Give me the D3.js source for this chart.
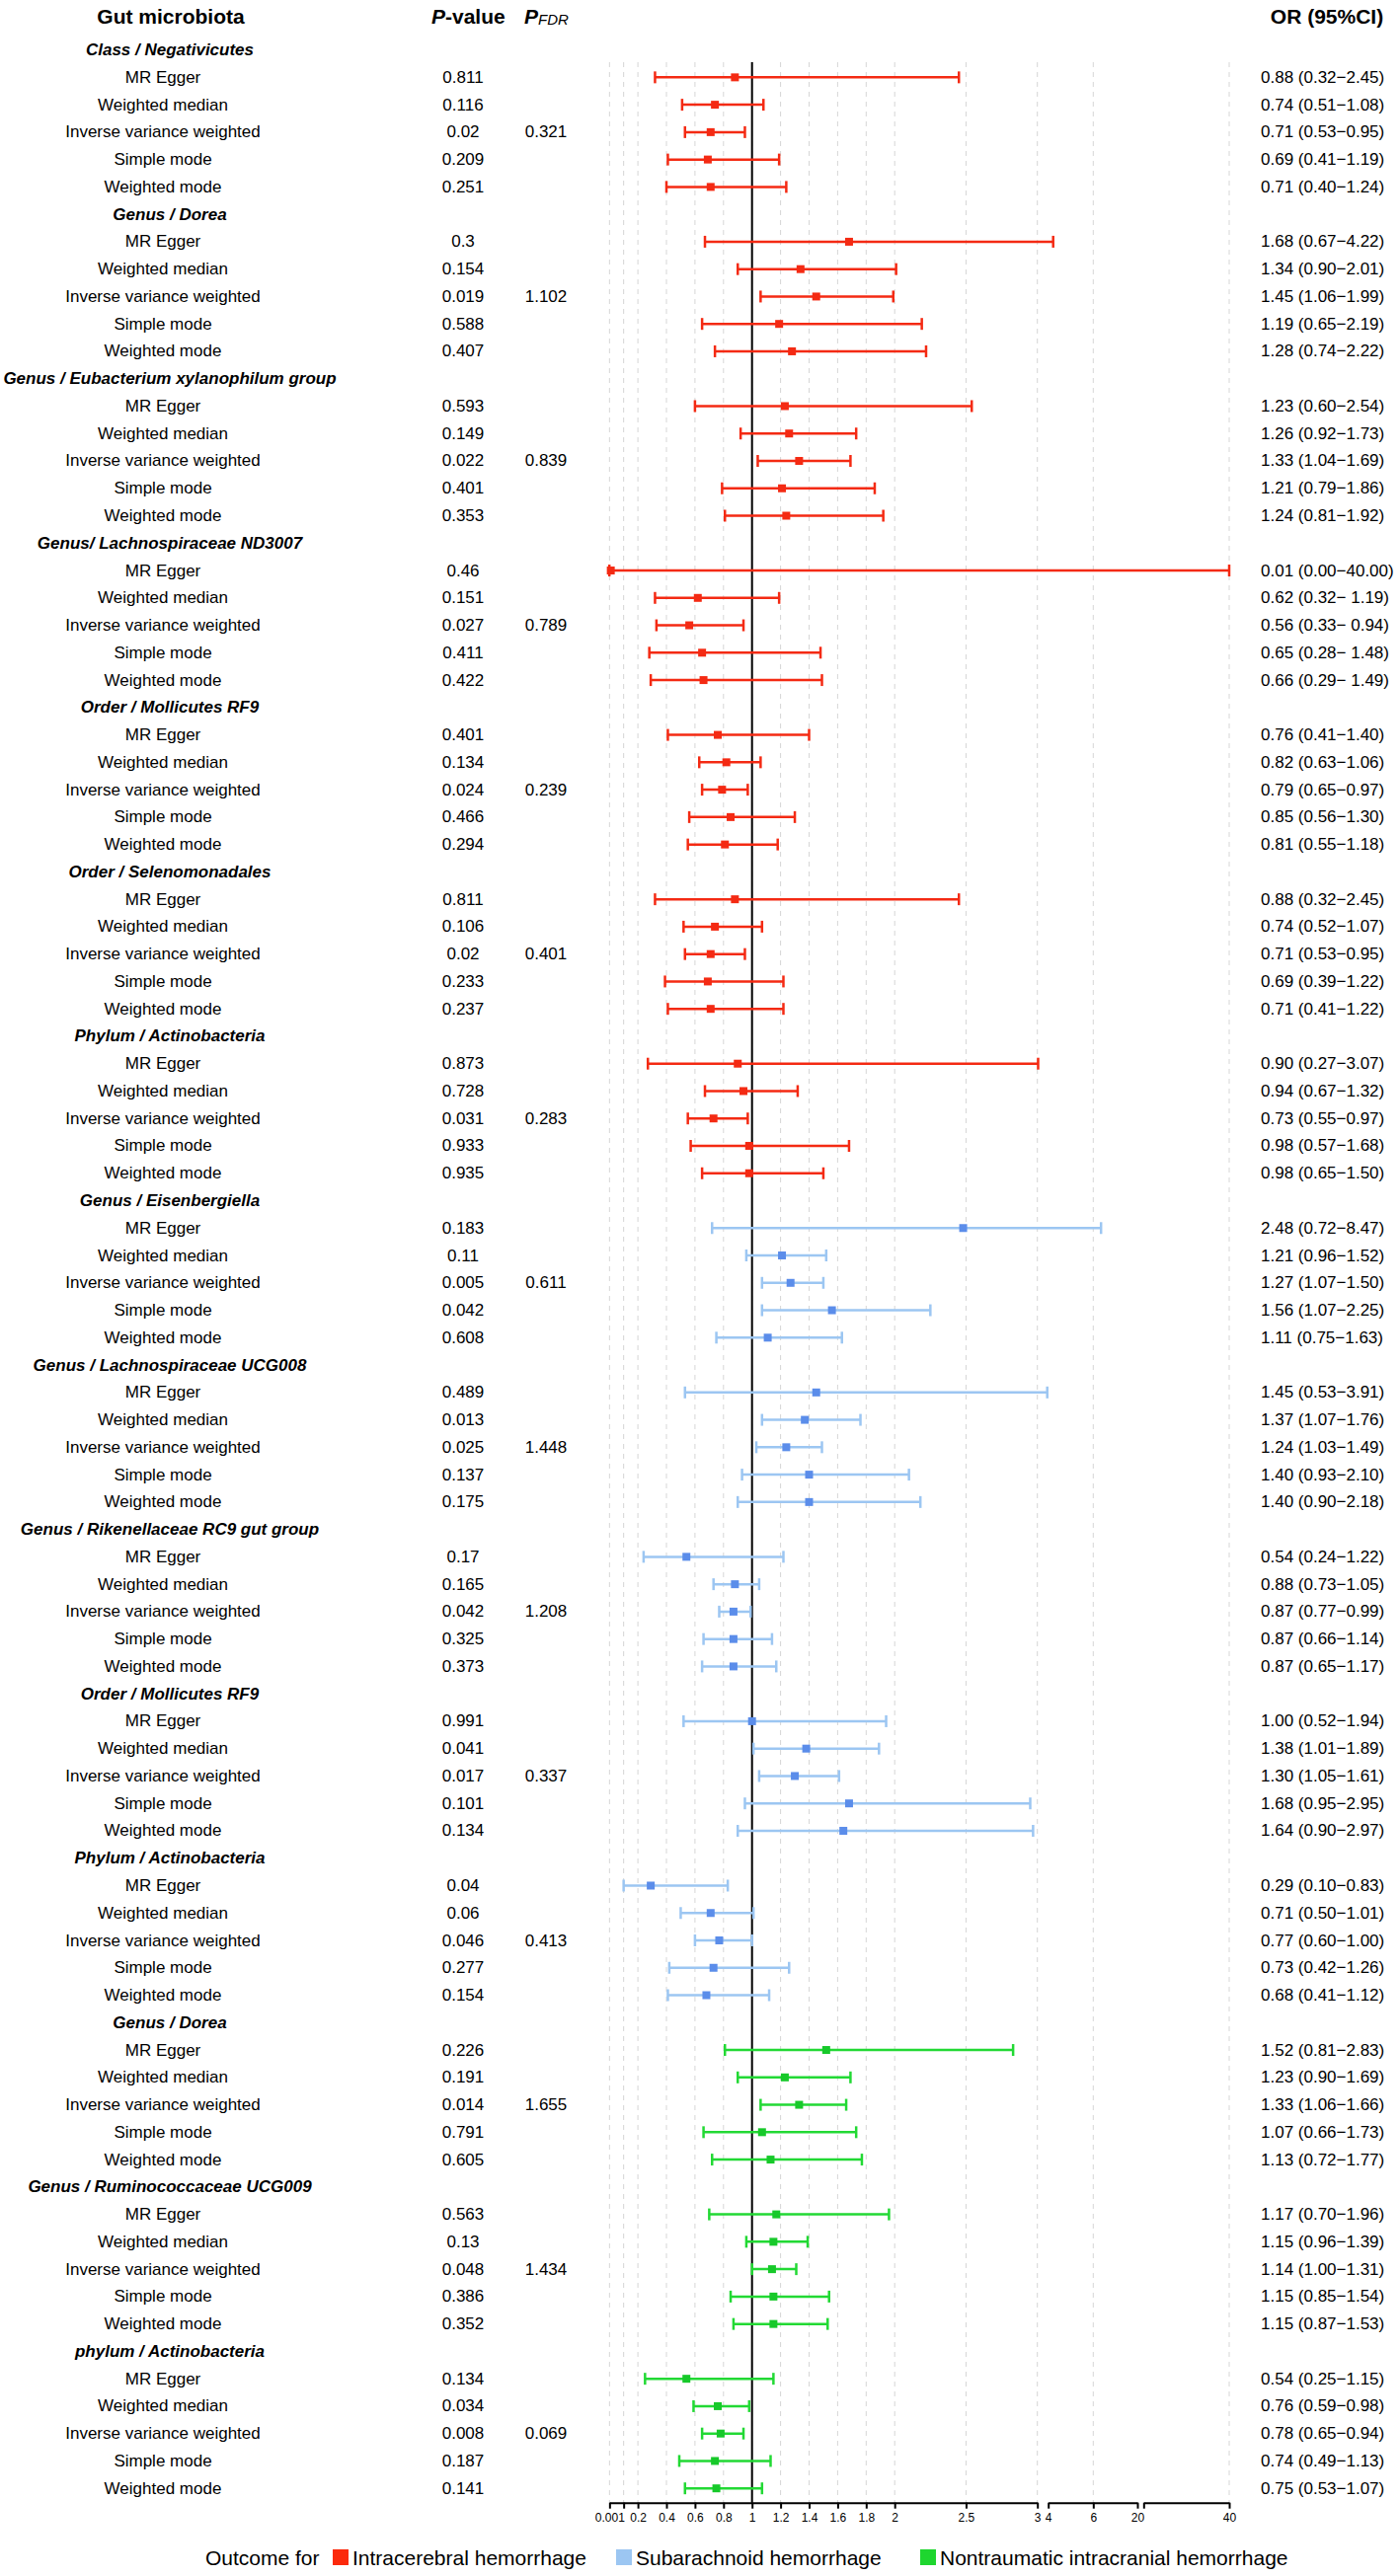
<!DOCTYPE html>
<html>
<head>
<meta charset="utf-8">
<style>
  body { margin: 0; background: #fff; }
  text { font-family: "Liberation Sans", Arial, sans-serif; fill: #000; }
</style>
</head>
<body>
<div id="chart"></div>
<script src="https://d3js.org/d3.v7.min.js"></script>
<script>
// ---- data ----
const groups = [
  "Class / Negativicutes",
  "Genus / Dorea",
  "Genus / Eubacterium xylanophilum group",
  "Genus/ Lachnospiraceae ND3007",
  "Order / Mollicutes RF9",
  "Order / Selenomonadales",
  "Phylum / Actinobacteria",
  "Genus / Eisenbergiella",
  "Genus / Lachnospiraceae UCG008",
  "Genus / Rikenellaceae RC9 gut group",
  "Order / Mollicutes RF9",
  "Phylum / Actinobacteria",
  "Genus / Dorea",
  "Genus / Ruminococcaceae UCG009",
  "phylum / Actinobacteria"
];
const groupOutcome = [0, 0, 0, 0, 0, 0, 0, 1, 1, 1, 1, 1, 2, 2, 2];
const outcomes = ["Intracerebral hemorrhage", "Subarachnoid hemorrhage", "Nontraumatic intracranial hemorrhage"];
const methods = ["MR Egger", "Weighted median", "Inverse variance weighted", "Simple mode", "Weighted mode"];

const pValues = [
  ["0.811", "0.116", "0.02", "0.209", "0.251"],
  ["0.3", "0.154", "0.019", "0.588", "0.407"],
  ["0.593", "0.149", "0.022", "0.401", "0.353"],
  ["0.46", "0.151", "0.027", "0.411", "0.422"],
  ["0.401", "0.134", "0.024", "0.466", "0.294"],
  ["0.811", "0.106", "0.02", "0.233", "0.237"],
  ["0.873", "0.728", "0.031", "0.933", "0.935"],
  ["0.183", "0.11", "0.005", "0.042", "0.608"],
  ["0.489", "0.013", "0.025", "0.137", "0.175"],
  ["0.17", "0.165", "0.042", "0.325", "0.373"],
  ["0.991", "0.041", "0.017", "0.101", "0.134"],
  ["0.04", "0.06", "0.046", "0.277", "0.154"],
  ["0.226", "0.191", "0.014", "0.791", "0.605"],
  ["0.563", "0.13", "0.048", "0.386", "0.352"],
  ["0.134", "0.034", "0.008", "0.187", "0.141"]
];
// FDR only reported for the IVW row
const pFdr = ["0.321", "1.102", "0.839", "0.789", "0.239", "0.401", "0.283",
              "0.611", "1.448", "1.208", "0.337", "0.413", "1.655", "1.434", "0.069"];

const orValues = [
  [0.88, 0.74, 0.71, 0.69, 0.71],
  [1.68, 1.34, 1.45, 1.19, 1.28],
  [1.23, 1.26, 1.33, 1.21, 1.24],
  [0.01, 0.62, 0.56, 0.65, 0.66],
  [0.76, 0.82, 0.79, 0.85, 0.81],
  [0.88, 0.74, 0.71, 0.69, 0.71],
  [0.90, 0.94, 0.73, 0.98, 0.98],
  [2.48, 1.21, 1.27, 1.56, 1.11],
  [1.45, 1.37, 1.24, 1.40, 1.40],
  [0.54, 0.88, 0.87, 0.87, 0.87],
  [1.00, 1.38, 1.30, 1.68, 1.64],
  [0.29, 0.71, 0.77, 0.73, 0.68],
  [1.52, 1.23, 1.33, 1.07, 1.13],
  [1.17, 1.15, 1.14, 1.15, 1.15],
  [0.54, 0.76, 0.78, 0.74, 0.75]
];
const ciLower = [
  [0.32, 0.51, 0.53, 0.41, 0.40],
  [0.67, 0.90, 1.06, 0.65, 0.74],
  [0.60, 0.92, 1.04, 0.79, 0.81],
  [0.00, 0.32, 0.33, 0.28, 0.29],
  [0.41, 0.63, 0.65, 0.56, 0.55],
  [0.32, 0.52, 0.53, 0.39, 0.41],
  [0.27, 0.67, 0.55, 0.57, 0.65],
  [0.72, 0.96, 1.07, 1.07, 0.75],
  [0.53, 1.07, 1.03, 0.93, 0.90],
  [0.24, 0.73, 0.77, 0.66, 0.65],
  [0.52, 1.01, 1.05, 0.95, 0.90],
  [0.10, 0.50, 0.60, 0.42, 0.41],
  [0.81, 0.90, 1.06, 0.66, 0.72],
  [0.70, 0.96, 1.00, 0.85, 0.87],
  [0.25, 0.59, 0.65, 0.49, 0.53]
];
const ciUpper = [
  [2.45, 1.08, 0.95, 1.19, 1.24],
  [4.22, 2.01, 1.99, 2.19, 2.22],
  [2.54, 1.73, 1.69, 1.86, 1.92],
  [40.00, 1.19, 0.94, 1.48, 1.49],
  [1.40, 1.06, 0.97, 1.30, 1.18],
  [2.45, 1.07, 0.95, 1.22, 1.22],
  [3.07, 1.32, 0.97, 1.68, 1.50],
  [8.47, 1.52, 1.50, 2.25, 1.63],
  [3.91, 1.76, 1.49, 2.10, 2.18],
  [1.22, 1.05, 0.99, 1.14, 1.17],
  [1.94, 1.89, 1.61, 2.95, 2.97],
  [0.83, 1.01, 1.00, 1.26, 1.12],
  [2.83, 1.69, 1.66, 1.73, 1.77],
  [1.96, 1.39, 1.31, 1.54, 1.53],
  [1.15, 0.98, 0.94, 1.13, 1.07]
];

// broken x axis: three pieces
const ticksA = [0.001, 0.1, 0.2, 0.4, 0.6, 0.8, 1, 1.2, 1.4, 1.6, 1.8, 2, 2.5, 3];
const labelsA = ["0.001", "", "0.2", "0.4", "0.6", "0.8", "1", "1.2", "1.4", "1.6", "1.8", "2", "2.5", "3"];
const ticksB = [4, 6, 20];
const labelsB = ["4", "6", "20"];
const ticksC = [20, 40];
const labelsC = ["", "40"];
const extraGrid = [6, 40];

// ---- layout ----
const width = 1418, height = 2610;
const lineColor = ["#f42a13", "#9cc6f2", "#22d934"];
const pointColor = ["#f42a13", "#5b8dea", "#17c92a"];
const legendColor = ["#fb2a0c", "#9cc6f2", "#1ed62f"];

const svg = d3.select("#chart").append("svg")
  .attr("width", width)
  .attr("height", height)
  .style("background", "#fff");

// flatten rows: group header + 5 method rows
const rows = [];
groups.forEach((g, gi) => {
  rows.push({ type: "group", label: g, g: gi });
  methods.forEach((m, mi) => {
    rows.push({
      type: "method", label: m, g: gi, m: mi,
      p: pValues[gi][mi],
      fdr: mi === 2 ? pFdr[gi] : "",
      or: orValues[gi][mi], lo: ciLower[gi][mi], hi: ciUpper[gi][mi]
    });
  });
});

const y = d3.scaleLinear().domain([0, rows.length - 1]).range([50.6, 2521.2]);
const x = d3.scaleLinear()
  .domain([0, 3, 4, 6, 20, 40])
  .range([617.2, 1050.7, 1061.7, 1107.3, 1152, 1245]);

const plotTop = 63, axisY = 2535.7;

// header
const head = svg.append("g").attr("font-weight", "bold").attr("font-size", 21);
head.append("text").attr("x", 173).attr("y", 16)
  .attr("text-anchor", "middle").attr("dominant-baseline", "central")
  .text("Gut microbiota");
const pv = head.append("text").attr("x", 437).attr("y", 16).attr("dominant-baseline", "central");
pv.append("tspan").attr("font-style", "italic").text("P");
pv.append("tspan").text("-value");
const pf = head.append("text").attr("x", 531).attr("y", 16).attr("dominant-baseline", "central");
pf.append("tspan").attr("font-style", "italic").text("P");
pf.append("tspan").attr("font-style", "italic").attr("font-weight", "normal")
  .attr("font-size", 15).attr("dy", 3).text("FDR");
head.append("text").attr("x", 1344).attr("y", 16)
  .attr("text-anchor", "middle").attr("dominant-baseline", "central")
  .text("OR (95%CI)");

// grid
const gridVals = ticksA.concat(extraGrid);
svg.append("g").selectAll("line").data(gridVals).join("line")
  .attr("x1", d => x(d)).attr("x2", d => x(d))
  .attr("y1", plotTop).attr("y2", axisY)
  .attr("stroke", "#d6d6d6").attr("stroke-width", 1)
  .attr("stroke-dasharray", "5,5");

// reference line at OR = 1
svg.append("line")
  .attr("x1", x(1)).attr("x2", x(1))
  .attr("y1", plotTop).attr("y2", axisY)
  .attr("stroke", "#000").attr("stroke-width", 2);

// table text
const rowG = svg.append("g").selectAll("g").data(rows).join("g")
  .attr("transform", (d, i) => `translate(0,${y(i)})`);

rowG.filter(d => d.type === "group").append("text")
  .attr("x", 172).attr("text-anchor", "middle").attr("dominant-baseline", "central")
  .attr("font-size", 17).attr("font-weight", "bold").attr("font-style", "italic")
  .text(d => d.label);

const mRows = rowG.filter(d => d.type === "method");
mRows.append("text")
  .attr("x", 165).attr("text-anchor", "middle").attr("dominant-baseline", "central")
  .attr("font-size", 17).text(d => d.label);
mRows.append("text")
  .attr("x", 469).attr("text-anchor", "middle").attr("dominant-baseline", "central")
  .attr("font-size", 17).text(d => d.p);
mRows.append("text")
  .attr("x", 553).attr("text-anchor", "middle").attr("dominant-baseline", "central")
  .attr("font-size", 17).text(d => d.fdr);
mRows.append("text")
  .attr("x", 1277).attr("dominant-baseline", "central")
  .attr("font-size", 17)
  .text(d => {
    const sep = (d.g === 3 && d.m > 0) ? "\u2212 " : "\u2212";
    return `${d.or.toFixed(2)} (${d.lo.toFixed(2)}${sep}${d.hi.toFixed(2)})`;
  });

// error bars
const capH = 6;
mRows.append("line")
  .attr("x1", d => x(d.lo)).attr("x2", d => x(d.hi))
  .attr("stroke", d => lineColor[groupOutcome[d.g]]).attr("stroke-width", 2.5);
mRows.append("line")
  .attr("x1", d => x(d.lo)).attr("x2", d => x(d.lo))
  .attr("y1", -capH).attr("y2", capH)
  .attr("stroke", d => lineColor[groupOutcome[d.g]]).attr("stroke-width", 2.5);
mRows.append("line")
  .attr("x1", d => x(d.hi)).attr("x2", d => x(d.hi))
  .attr("y1", -capH).attr("y2", capH)
  .attr("stroke", d => lineColor[groupOutcome[d.g]]).attr("stroke-width", 2.5);
mRows.append("rect")
  .attr("x", d => x(d.or) - 4).attr("y", -4)
  .attr("width", 8).attr("height", 8)
  .attr("fill", d => pointColor[groupOutcome[d.g]]);

// broken axis pieces
function axisPiece(domain, range, ticks, labels) {
  const s = d3.scaleLinear().domain(domain).range(range);
  const g = svg.append("g").attr("transform", `translate(0,${axisY})`)
    .call(d3.axisBottom(s).tickValues(ticks).tickSize(6).tickSizeOuter(0)
      .tickFormat((d, i) => labels[i]));
  g.select(".domain").attr("stroke", "#000").attr("stroke-width", 2);
  g.selectAll(".tick line").attr("stroke", "#000").attr("stroke-width", 2);
  g.selectAll(".tick text")
    .attr("font-family", "'Liberation Sans', Arial, sans-serif")
    .attr("font-size", 12).attr("fill", "#111").attr("dy", "0.9em");
}
axisPiece([0, 3], [x(0), x(3)], ticksA, labelsA);
axisPiece([4, 6, 20], [x(4), x(6), x(20)], ticksB, labelsB);
axisPiece([20, 40], [1158.3, x(40)], ticksC, labelsC);

// legend
const legY = 2591;
const leg = svg.append("g");
leg.append("text").attr("x", 208).attr("y", legY).attr("dominant-baseline", "central")
  .attr("font-size", 21).text("Outcome for");
const legX = [337, 624, 932];
outcomes.forEach((o, i) => {
  leg.append("rect").attr("x", legX[i]).attr("y", legY - 8)
    .attr("width", 16).attr("height", 16).attr("fill", legendColor[i]);
  leg.append("text").attr("x", legX[i] + 20).attr("y", legY)
    .attr("dominant-baseline", "central").attr("font-size", 21).text(o);
});
</script>
</body>
</html>
